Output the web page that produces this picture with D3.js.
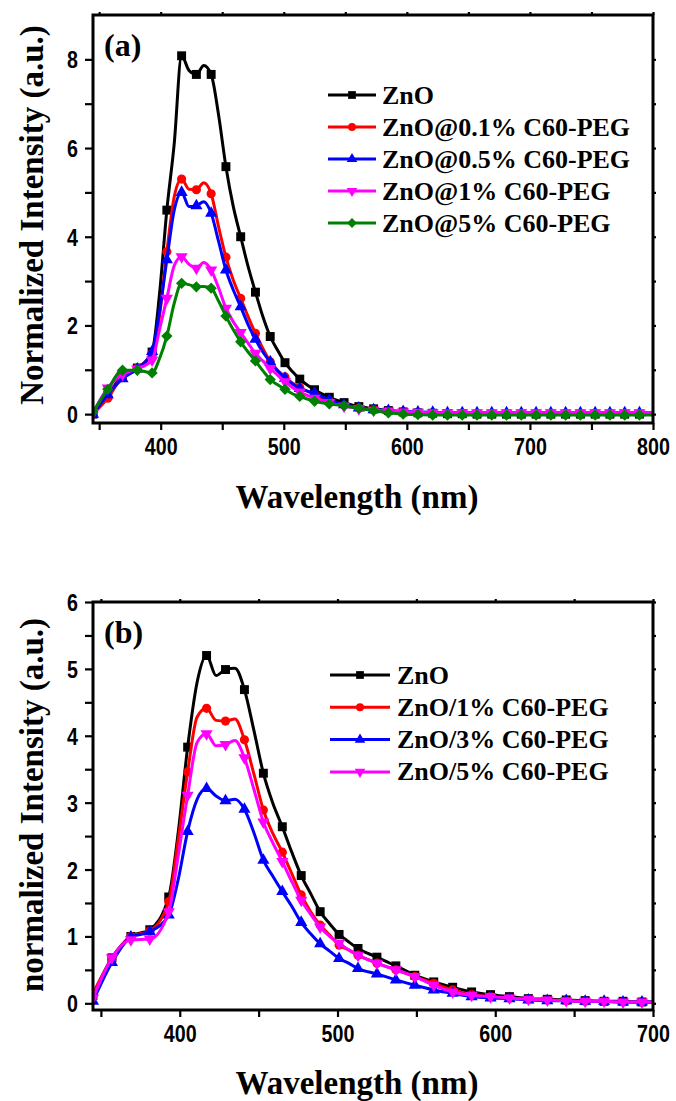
<!DOCTYPE html>
<html><head><meta charset="utf-8">
<script src="https://cdn.jsdelivr.net/npm/d3@7"></script>
<style>body{margin:0;background:#fff}</style>
</head><body><svg id="c" width="676" height="1101"></svg>
<script>
// ---------------- DATA ----------------
// Panel (a)
const wlA = [345,357,369,381,393,
  399,405,411,417,423,429,435,441,447,453,459,465,471,477,483,489,495,501,507,513,
  525,537,549,561,573,585,597,609,621,633,645,657,669,681,693,705,717,729,741,753,765,777,789,800];
const namesA = ["ZnO","ZnO@0.1% C60-PEG","ZnO@0.5% C60-PEG","ZnO@1% C60-PEG","ZnO@5% C60-PEG"];
const znoA = [0.0,0.42,0.88,1.04,1.4,
  2.7,4.6,6.1,8.08,7.75,7.66,7.86,7.66,6.75,5.58,4.68,4.0,3.33,2.75,2.2,1.75,1.44,1.16,0.96,0.79,
  0.55,0.38,0.26,0.17,0.12,0.08,0.05,0.03,0.02,0.01,0.01,0,0,0,0,0,0,0,0,0,0,0,0,0];
const p01A = [0.0,0.36,0.85,1.04,1.37,
  2.2,3.66,4.9,5.3,5.07,5.06,5.22,4.97,4.23,3.54,3.02,2.61,2.2,1.82,1.48,1.18,0.99,0.84,0.7,0.6,
  0.44,0.3,0.2,0.14,0.1,0.07,0.05,0.03,0.02,0.02,0.02,0.01,0.01,0.01,0.01,0.01,0.01,0.01,0.01,0.01,0.01,0.01,0.01,0.01];
const p05A = [0.0,0.44,0.8,1.02,1.41,
  2.3,3.48,4.6,5.0,4.68,4.7,4.79,4.53,3.9,3.25,2.8,2.42,2.02,1.69,1.4,1.18,0.97,0.81,0.68,0.58,
  0.47,0.32,0.21,0.14,0.1,0.08,0.06,0.05,0.04,0.03,0.03,0.03,0.03,0.03,0.03,0.03,0.03,0.03,0.03,0.03,0.03,0.03,0.03,0.03];
const p1A = [0.03,0.59,0.9,1.02,1.22,
  1.9,2.61,3.35,3.55,3.38,3.29,3.42,3.25,2.85,2.39,2.08,1.84,1.6,1.37,1.2,1.03,0.88,0.73,0.6,0.5,
  0.36,0.26,0.18,0.12,0.09,0.07,0.05,0.04,0.03,0.03,0.03,0.03,0.03,0.03,0.03,0.03,0.03,0.03,0.03,0.03,0.03,0.03,0.03,0.03];
const p5A = [0.05,0.56,0.99,0.99,0.93,
  1.25,1.76,2.5,2.95,2.92,2.87,2.88,2.84,2.55,2.21,1.9,1.63,1.4,1.2,0.98,0.78,0.66,0.56,0.46,0.4,
  0.29,0.23,0.19,0.13,0.08,0.03,0.0,-0.01,-0.02,-0.02,-0.02,-0.02,-0.02,-0.02,-0.02,-0.02,-0.02,-0.02,-0.02,-0.02,-0.02,-0.02,-0.02,-0.02];
const xTicksA = [400,500,600,700,800];
const yTicksA = [0,2,4,6,8];

// Panel (b)
const wlB = [345,357,369,381,393,
  399,405,411,417,423,429,435,441,447,453,459,465,471,477,483,489,495,501,507,513,
  525,537,549,561,573,585,597,609,621,633,645,657,669,681,693,700];
const namesB = ["ZnO","ZnO/1% C60-PEG","ZnO/3% C60-PEG","ZnO/5% C60-PEG"];
const znoB = [0.12,0.68,1.0,1.1,1.59,
  2.55,3.83,4.8,5.2,4.9,4.99,5.01,4.69,4.08,3.44,2.99,2.64,2.26,1.91,1.64,1.37,1.19,1.03,0.92,0.82,
  0.69,0.56,0.42,0.32,0.24,0.17,0.13,0.1,0.07,0.06,0.05,0.04,0.03,0.03,0.02,0.02];
const p1B = [0.15,0.66,1.0,1.08,1.52,
  2.44,3.46,4.28,4.41,4.23,4.22,4.25,3.94,3.43,2.89,2.54,2.26,1.94,1.62,1.37,1.17,1.02,0.87,0.8,0.72,
  0.6,0.5,0.4,0.3,0.2,0.13,0.1,0.08,0.06,0.05,0.04,0.03,0.03,0.02,0.02,0.02];
const p3B = [0.03,0.61,0.99,1.07,1.32,
  1.85,2.57,3.05,3.21,3.1,3.03,3.05,2.9,2.55,2.14,1.9,1.67,1.45,1.21,1.04,0.89,0.78,0.67,0.6,0.52,
  0.44,0.35,0.27,0.2,0.15,0.1,0.08,0.07,0.05,0.04,0.04,0.03,0.03,0.02,0.02,0.02];
const p5B = [0.08,0.68,0.95,0.96,1.37,
  2.2,3.11,3.9,4.03,3.85,3.87,3.93,3.67,3.2,2.71,2.4,2.12,1.82,1.54,1.33,1.14,1.0,0.9,0.8,0.72,
  0.6,0.5,0.4,0.27,0.17,0.12,0.1,0.08,0.06,0.05,0.04,0.03,0.03,0.02,0.02,0.02];
const xTicksB = [400,500,600,700];
const yTicksB = [0,1,2,3,4,5,6];

// ---------------- DRAW ----------------
const svg = d3.select('#c');
const TICKFONT = "'Liberation Sans',Arial,sans-serif";
const SERIF = "'Liberation Serif','Times New Roman',serif";
const SX = 0.82; // condensed tick digits

const styles = {
  black:  {color:"#000000", sym:"square"},
  red:    {color:"#ff0000", sym:"circle"},
  blue:   {color:"#0000ff", sym:"triangle"},
  magenta:{color:"#ff00ff", sym:"tridown"},
  green:  {color:"#008000", sym:"diamond"}
};

function symPath(sym, scale) {
  const s = scale || 1;
  if (sym === "square") return {d: d3.symbol(d3.symbolSquare, 80*s)(), rot:0};
  if (sym === "circle") return {d: d3.symbol(d3.symbolCircle, 66*s)(), rot:0};
  if (sym === "triangle") return {d: d3.symbol(d3.symbolTriangle, 64*s)(), rot:0};
  if (sym === "tridown") return {d: d3.symbol(d3.symbolTriangle, 64*s)(), rot:180};
  if (sym === "diamond") return {d: d3.symbol(d3.symbolSquare, 64*s)(), rot:45};
}

function panel(cfg) {
  const {top, bottom, left, right} = cfg;
  const x = d3.scaleLinear().domain(cfg.xDomain).range([left, right]);
  const y = d3.scaleLinear().domain(cfg.yDomain).range([bottom, top]);
  const g = svg.append('g');
  const clipId = 'clip' + cfg.id;
  g.append('clipPath').attr('id', clipId).append('rect')
    .attr('x', left).attr('y', top).attr('width', right-left).attr('height', bottom-top);

  // series
  const plot = g.append('g').attr('clip-path', `url(#${clipId})`);
  const line = d3.line().x(d=>x(d[0])).y(d=>y(d[1])).curve(d3.curveMonotoneX);
  cfg.series.forEach(s => {
    const pts = cfg.wl.map((w,i)=>[w, s.values[i]]);
    const st = styles[s.style];
    plot.append('path').attr('d', line(pts)).attr('fill','none')
      .attr('stroke', st.color).attr('stroke-width', 3).attr('stroke-linejoin','round');
    const sp = symPath(st.sym);
    plot.selectAll(null).data(pts.filter(p => (p[0]-345) % 12 === 0)).enter()
      .append('path').attr('d', sp.d)
      .attr('transform', p => `translate(${x(p[0])},${y(p[1])}) rotate(${sp.rot})`)
      .attr('fill', st.color);
  });

  // axes
  const bottomAxis = d3.axisBottom(x).tickValues(cfg.xTicks).tickSize(7).tickPadding(6).tickFormat(d3.format('d'));
  const bMinor = d3.axisBottom(x).tickValues(cfg.xMinor).tickSize(7).tickFormat('');
  const leftAxis = d3.axisLeft(y).tickValues(cfg.yTicks).tickSize(8).tickPadding(6).tickFormat(d3.format('d'));
  const lMinor = d3.axisLeft(y).tickValues(cfg.yMinor).tickSize(8).tickFormat('');
  const topAxis = d3.axisTop(x).tickValues(cfg.xTicks.concat(cfg.xMinor)).tickSize(3).tickFormat('');
  const rightAxis = d3.axisRight(y).tickValues(cfg.yTicks.concat(cfg.yMinor)).tickSize(3).tickFormat('');

  const axes = [
    g.append('g').attr('transform',`translate(0,${bottom})`).call(bottomAxis),
    g.append('g').attr('transform',`translate(0,${bottom})`).call(bMinor),
    g.append('g').attr('transform',`translate(${left},0)`).call(leftAxis),
    g.append('g').attr('transform',`translate(${left},0)`).call(lMinor),
    g.append('g').attr('transform',`translate(0,${top})`).call(topAxis),
    g.append('g').attr('transform',`translate(${right},0)`).call(rightAxis)
  ];
  axes.forEach(a => {
    a.select('.domain').remove();
    a.selectAll('line').attr('stroke','#000').attr('stroke-width',2.2);
    a.selectAll('text').attr('font-family', TICKFONT).attr('font-weight','bold')
      .attr('font-size', 24).attr('fill','#000');
  });
  axes[0].selectAll('text').attr('dy', null).attr('y', 32).attr('transform', `scale(${SX},1)`);
  axes[2].selectAll('text').attr('dy', null).attr('x', -15/SX).attr('y', 8.5).attr('transform', `scale(${SX},1)`);

  // frame
  g.append('rect').attr('x', left).attr('y', top).attr('width', right-left).attr('height', bottom-top)
    .attr('fill','none').attr('stroke','#000').attr('stroke-width', 3);

  // panel label
  g.append('text').attr('x', left+11).attr('y', top+41).text(cfg.label)
    .attr('font-family', SERIF).attr('font-weight','bold').attr('font-size', 32);

  // titles
  g.append('text').attr('x', 357).attr('y', cfg.xTitleY).attr('text-anchor','middle')
    .text('Wavelength (nm)').attr('font-family', SERIF).attr('font-weight','bold').attr('font-size', 33);
  g.append('text').attr('transform', `translate(43,${cfg.yTitleC}) rotate(-90)`).attr('text-anchor','middle')
    .text(cfg.yTitle).attr('font-family', SERIF).attr('font-weight','bold').attr('font-size', 33);

  // legend
  const lg = g.append('g');
  cfg.series.forEach((s, i) => {
    const st = styles[s.style];
    const cy = cfg.legend.y0 + i*cfg.legend.dy;
    lg.append('line').attr('x1', cfg.legend.x1).attr('x2', cfg.legend.x2).attr('y1', cy).attr('y2', cy)
      .attr('stroke', st.color).attr('stroke-width', 3);
    const sp = symPath(st.sym, 0.75);
    lg.append('path').attr('d', sp.d)
      .attr('transform', `translate(${(cfg.legend.x1+cfg.legend.x2)/2},${cy}) rotate(${sp.rot})`)
      .attr('fill', st.color);
    lg.append('text').attr('x', cfg.legend.tx).attr('y', cy + 8.5).text(s.name)
      .attr('font-family', SERIF).attr('font-weight','bold').attr('font-size', 26);
  });
}

panel({
  id:'a', top:15, bottom:423, left:93, right:653,
  xDomain:[345,800], yDomain:[-0.2,9],
  xTicks:xTicksA, xMinor:[350,450,550,650,750], yTicks:yTicksA, yMinor:[1,3,5,7],
  wl: wlA,
  series:[
    {name:namesA[0], values:znoA, style:'black'},
    {name:namesA[1], values:p01A, style:'red'},
    {name:namesA[2], values:p05A, style:'blue'},
    {name:namesA[3], values:p1A, style:'magenta'},
    {name:namesA[4], values:p5A, style:'green'}
  ],
  label:'(a)', xTitleY:508, yTitle:'Normalized Intensity (a.u.)', yTitleC:215,
  legend:{x1:328, x2:376, tx:382, y0:95, dy:32}
});

panel({
  id:'b', top:602, bottom:1010, left:93, right:653,
  xDomain:[345,700], yDomain:[-0.1,6],
  xTicks:xTicksB, xMinor:[350,450,550,650], yTicks:yTicksB, yMinor:[0.5,1.5,2.5,3.5,4.5,5.5],
  wl: wlB,
  series:[
    {name:namesB[0], values:znoB, style:'black'},
    {name:namesB[1], values:p1B, style:'red'},
    {name:namesB[2], values:p3B, style:'blue'},
    {name:namesB[3], values:p5B, style:'magenta'}
  ],
  label:'(b)', xTitleY:1094, yTitle:'normalized Intensity (a.u.)', yTitleC:805,
  legend:{x1:330, x2:390, tx:397, y0:675, dy:32.3}
});
</script></body></html>
